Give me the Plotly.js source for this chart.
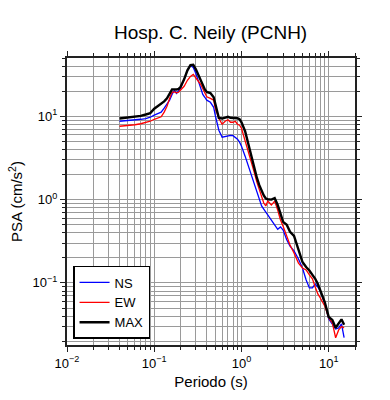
<!DOCTYPE html>
<html>
<head>
<meta charset="utf-8">
<script src="https://cdn.plot.ly/plotly-3.0.1.min.js"></script>
<style>html,body{margin:0;padding:0;background:#fff;}#chart{width:390px;height:400px;}</style>
</head>
<body>
<div id="chart"></div>
<script>
var periods = [0.04,0.05,0.06,0.07,0.08,0.09,0.10,0.11,0.12,0.13,0.14,0.15,0.16,0.17,0.18,0.19,0.20,0.22,0.24,0.26,0.28,0.30,0.32,0.34,0.36,0.38,0.40,0.44,0.48,0.50,0.55,0.60,0.65,0.70,0.75,0.80,0.85,0.90,0.95,1.0,1.1,1.2,1.3,1.4,1.5,1.6,1.7,1.8,1.9,2.0,2.2,2.4,2.6,2.8,3.0,3.3,3.6,4.0,4.5,5.0,5.5,6.0,6.5,7.0,7.5,8.0,9.0,10,11,12,13,14,15];

var psaNS = [8.71,8.83,9.08,9.2,9.39,9.73,10.3,10.7,11.2,12.5,13.9,15.6,18.3,20.5,18.8,19.9,21.6,27.7,35.6,40.8,38.6,32.7,26.3,21.0,18.3,16.9,15.6,14.7,12.8,10.3,6.79,5.61,5.68,5.75,5.91,5.84,5.53,5.31,4.89,4.38,3.32,2.52,1.96,1.58,1.23,0.99,0.84,0.77,0.71,0.65,0.58,0.50,0.44,0.47,0.43,0.33,0.277,0.242,0.194,0.151,0.109,0.087,0.087,0.097,0.0895,0.080,0.057,0.037,0.0314,0.028,0.0289,0.0323,0.022];

var psaEW = [7.59,7.69,7.91,8.13,8.47,8.71,9.2,9.59,9.86,11.2,13.2,16.4,19.4,19.6,19.1,19.4,20.5,22.9,27.0,30.1,31.8,29.3,26.3,24.2,21.6,19.4,17.1,16.4,15.6,12.5,9.47,8.02,8.71,9.08,8.47,8.47,8.71,8.02,7.8,7.18,5.16,3.71,2.74,2.13,1.62,1.30,1.07,0.91,0.84,0.96,0.86,0.96,0.75,0.57,0.48,0.366,0.285,0.229,0.173,0.151,0.143,0.125,0.112,0.0895,0.0738,0.066,0.053,0.038,0.0332,0.022,0.0273,0.030,0.0289];

var psaMAX = [9.39,9.59,9.78,10.1,10.5,10.9,12.3,13.2,13.9,15.1,16.4,18.8,21.0,21.0,20.9,21.3,22.4,27.7,35.6,41.0,41.5,36.6,31.0,27.0,23.5,21.0,19.6,19.0,16.9,14.3,9.55,9.39,9.73,9.86,9.59,9.59,9.59,9.47,9.2,8.47,6.61,4.50,3.23,2.42,1.83,1.49,1.25,1.12,1.03,1.01,1.00,1.04,0.86,0.65,0.54,0.50,0.41,0.366,0.255,0.178,0.155,0.141,0.125,0.112,0.097,0.082,0.059,0.039,0.036,0.029,0.0323,0.0366,0.0314];

var seriesNames = ["NS","EW","MAX"];
var xTickVals = [0.01,0.1,1,10];
var xTickText = ["10<sup>\u22122</sup>","10<sup>\u22121</sup>","10<sup>0</sup>","10<sup>1</sup>"];
var yTickVals = [0.1,1,10];
var yTickText = ["10<sup>\u22121</sup>","10<sup>0</sup>","10<sup>1</sup>"];

var FONT = "Liberation Sans, Arial, Helvetica, sans-serif";

var traces = [
  {x: periods, y: psaNS, name: seriesNames[0], type: "scatter", mode: "lines", line: {color: "#0000ff", width: 1.3}},
  {x: periods, y: psaEW, name: seriesNames[1], type: "scatter", mode: "lines", line: {color: "#ff0000", width: 1.3}},
  {x: periods, y: psaMAX, name: seriesNames[2], type: "scatter", mode: "lines", line: {color: "#000000", width: 2.4}}
];

var axisCommon = {
  type: "log",
  showline: true, linecolor: "#222", linewidth: 2, mirror: "allticks",
  ticks: "outside", ticklen: 5, tickwidth: 1, tickcolor: "#222",
  showgrid: true, gridcolor: "#9a9a9a", gridwidth: 1,
  zeroline: false,
  tickfont: {family: FONT, size: 13, color: "#000"},
  minor: {dtick: "D1", ticks: "outside", ticklen: 3, tickcolor: "#222", showgrid: true, gridcolor: "#9a9a9a", gridwidth: 1}
};

var layout = {
  width: 390, height: 400,
  margin: {l: 67, r: 35, t: 58, b: 55},
  paper_bgcolor: "#fff", plot_bgcolor: "#fff",
  font: {family: FONT, color: "#000"},
  title: {text: "Hosp. C. Neily (PCNH)", font: {family: FONT, size: 19, color: "#000"}, x: 0.54, xanchor: "center", y: 0.918, yanchor: "middle", yref: "container"},
  xaxis: Object.assign({}, axisCommon, {
    range: [-2, Math.log10(20)],
    tickmode: "array", tickvals: xTickVals, ticktext: xTickText,
    title: {text: "Periodo (s)", font: {family: FONT, size: 15, color: "#000"}, standoff: 7}
  }),
  yaxis: Object.assign({}, axisCommon, {
    range: [Math.log10(0.018), Math.log10(50)],
    tickmode: "array", tickvals: yTickVals, ticktext: yTickText,
    title: {text: "PSA (cm/s<sup>2</sup>)", font: {family: FONT, size: 15, color: "#000"}, standoff: 6}
  }),
  showlegend: true,
  legend: {
    x: 0.021, y: 0.021, xanchor: "left", yanchor: "bottom",
    bgcolor: "#fff", bordercolor: "#000", borderwidth: 1.5,
    font: {family: FONT, size: 13, color: "#000"},
    traceorder: "normal", tracegroupgap: 0
  }
};

Plotly.newPlot("chart", traces, layout, {displayModeBar: false, staticPlot: true});
</script>
</body>
</html>
